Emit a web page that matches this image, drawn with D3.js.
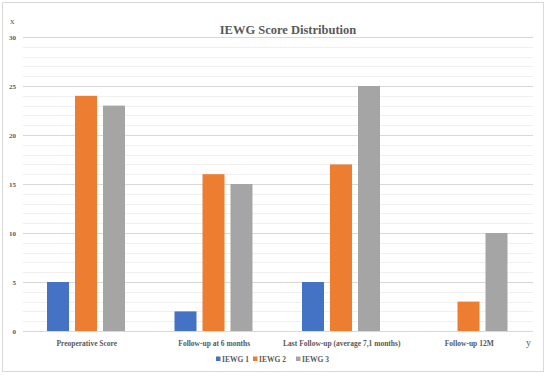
<!DOCTYPE html>
<meta charset="utf-8">
<style>
  body { margin: 0; background: #fff; }
  svg text { font-family: "Liberation Serif", "DejaVu Serif", serif; fill: #595959; }
</style>
<body>
<div id="chart"></div>
<script src="https://d3js.org/d3.v7.min.js"></script>
<script>
  const categories = ["Preoperative Score", "Follow-up at 6 months", "Last Follow-up (average 7,1 months)", "Follow-up 12M"];
  const seriesNames = ["IEWG 1", "IEWG 2", "IEWG 3"];
  const iewg1 = [5, 2, 5, 0];
  const iewg2 = [24, 16, 17, 3];
  const iewg3 = [23, 15, 25, 10];
  const yTicks = [0, 5, 10, 15, 20, 25, 30];
  const colors = ["#4472C4", "#ED7D31", "#A5A5A5"];

  const W = 546, H = 375;
  const plotLeft = 23, plotRight = 533, plotTop = 37, plotBottom = 331;

  const svg = d3.select("#chart").append("svg")
    .attr("width", W).attr("height", H);

  // outer frame
  svg.append("rect")
    .attr("x", 2.5).attr("y", 2.5)
    .attr("width", 541).attr("height", 369)
    .attr("fill", "#fff").attr("stroke", "#d9d9d9");

  const x = d3.scaleBand().domain(categories).range([plotLeft, plotRight]);
  const x1 = d3.scaleBand().domain(seriesNames).range([24, x.bandwidth() - 25.5])
    .paddingInner(0.214).paddingOuter(0);
  const y = d3.scaleLinear().domain([0, 30]).range([plotBottom, plotTop]);

  // minor grid
  svg.append("g").selectAll("line")
    .data(d3.range(0, 31).filter(v => v % 5 !== 0))
    .join("line")
    .attr("x1", plotLeft).attr("x2", plotRight)
    .attr("y1", d => Math.round(y(d)) + 0.5).attr("y2", d => Math.round(y(d)) + 0.5)
    .attr("stroke", "#f0f0f0");

  // major grid + y labels
  const yAxis = d3.axisLeft(y).tickValues(yTicks).tickSize(-(plotRight - plotLeft)).tickPadding(7);
  const gy = svg.append("g").attr("transform", `translate(${plotLeft},0)`).call(yAxis);
  gy.select(".domain").remove();
  gy.selectAll("line").attr("stroke", "#d9d9d9");
  gy.selectAll("text").style("font-size", "7px").style("font-weight", "bold").attr("fill", "#595959");

  // bars
  const data = categories.map((c, i) => ({ cat: c, vals: [iewg1[i], iewg2[i], iewg3[i]] }));
  const groups = svg.append("g").selectAll("g")
    .data(data).join("g")
    .attr("transform", d => `translate(${x(d.cat)},0)`);
  groups.selectAll("rect")
    .data(d => d.vals.map((v, j) => ({ s: seriesNames[j], v, j })))
    .join("rect")
    .attr("x", d => x1(d.s))
    .attr("width", x1.bandwidth())
    .attr("y", d => y(d.v))
    .attr("height", d => y(0) - y(d.v))
    .attr("fill", d => colors[d.j]);

  // category labels
  const xAxis = d3.axisBottom(x).tickSize(0).tickPadding(10);
  const gx = svg.append("g").attr("transform", `translate(0,${plotBottom})`).call(xAxis);
  gx.select(".domain").remove();
  gx.selectAll("text").style("font-size", "7.5px").style("font-weight", "bold").attr("fill", "#595959");

  // title
  svg.append("text")
    .attr("x", 288).attr("y", 34)
    .attr("text-anchor", "middle")
    .style("font-size", "12.5px").style("font-weight", "bold")
    .text("IEWG Score Distribution");

  // axis letters
  svg.append("text").attr("x", 10).attr("y", 24).style("font-size", "9px").text("x");
  svg.append("text").attr("x", 526).attr("y", 346).style("font-size", "10px").text("y");

  // legend
  const legendX = [216, 253, 296];
  const lg = svg.append("g").selectAll("g")
    .data(seriesNames).join("g")
    .attr("transform", (d, i) => `translate(${legendX[i]},359)`);
  lg.append("rect").attr("x", 0).attr("y", -2.5).attr("width", 4.5).attr("height", 4.5)
    .attr("fill", (d, i) => colors[i]);
  lg.append("text").attr("x", 6).attr("y", 2.5)
    .style("font-size", "7.5px").style("font-weight", "bold")
    .text(d => d);
</script>
</body>
</html>
